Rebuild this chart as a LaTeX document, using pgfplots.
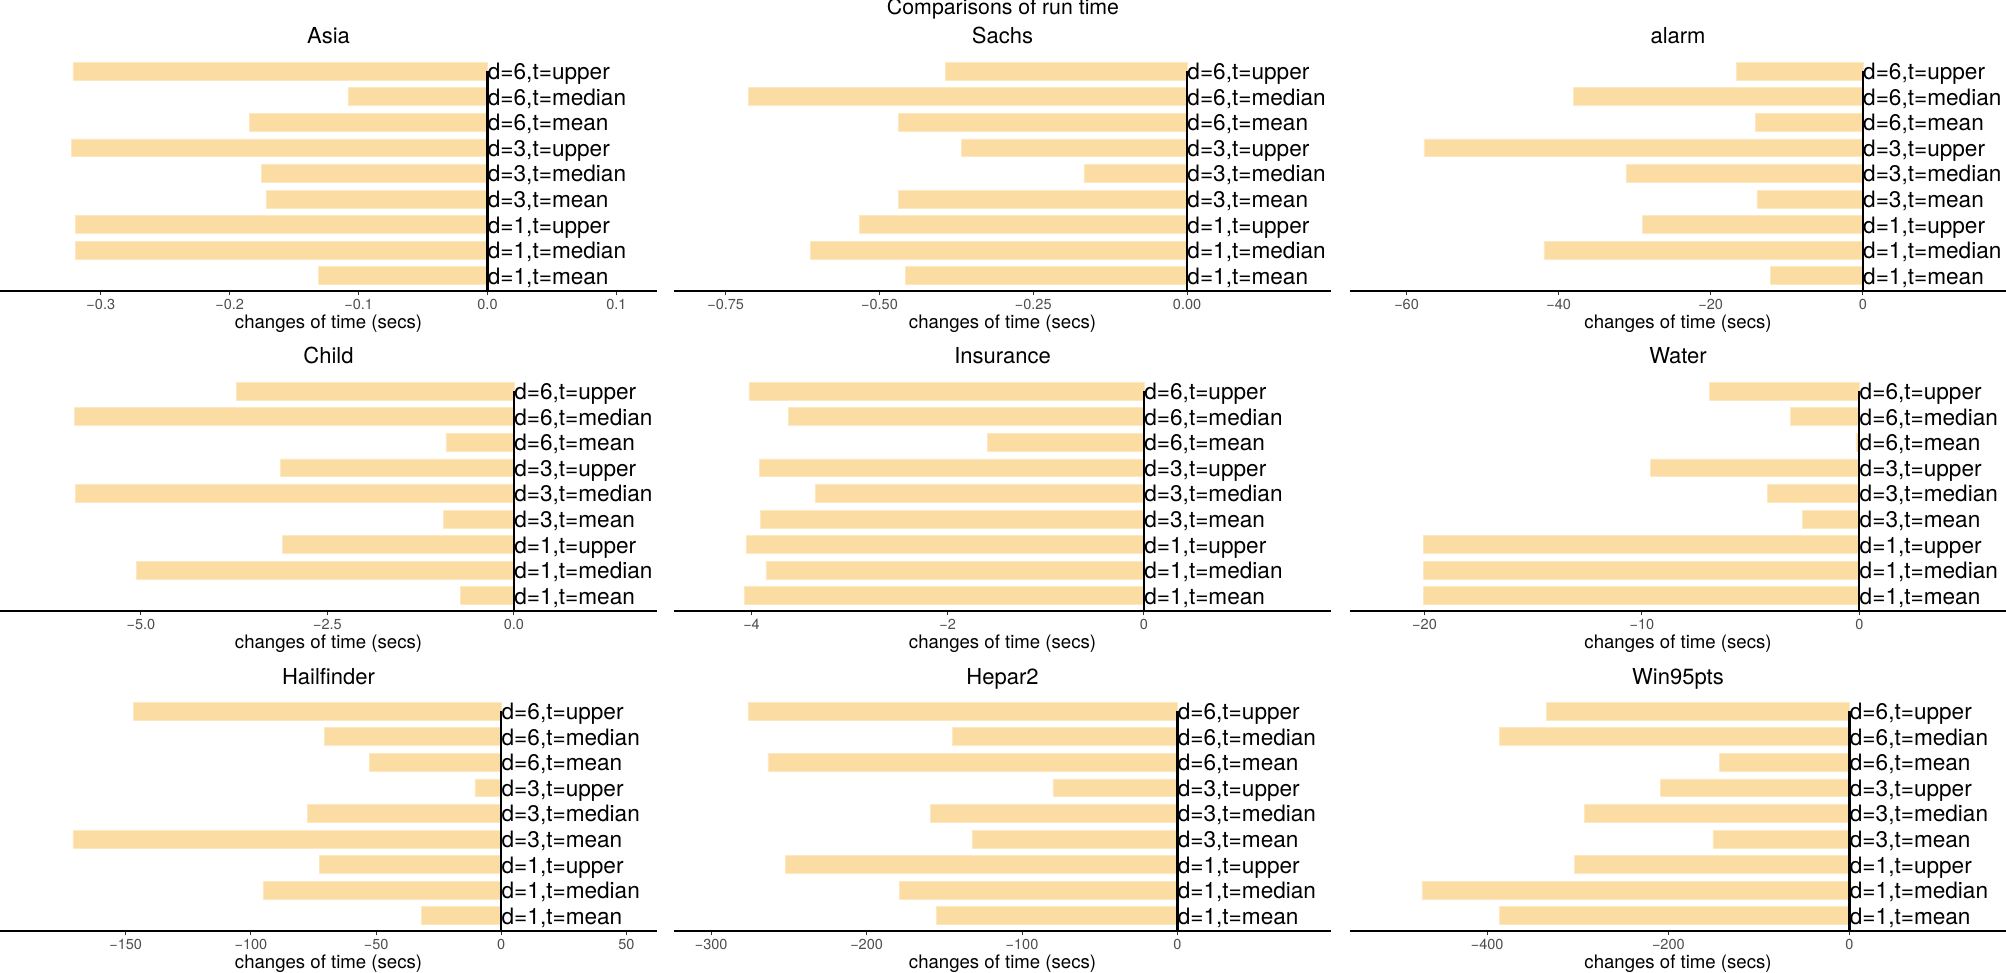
\documentclass[border=0pt]{standalone}
\usepackage{pgfplots}
\pgfplotsset{compat=1.18}
\usepackage{pgfplotstable}
\usepackage{fontspec}
\setmainfont{TeX Gyre Heros}

\definecolor{barfill}{HTML}{FBDDA4}
\definecolor{barline}{HTML}{FDE8C2}
\definecolor{tickgray}{HTML}{333333}
\definecolor{labgray}{HTML}{4D4D4D}

% categories, bottom to top
\pgfplotstableread{
x y label
0 1 d=1,t=mean
0 2 d=1,t=median
0 3 d=1,t=upper
0 4 d=3,t=mean
0 5 d=3,t=median
0 6 d=3,t=upper
0 7 d=6,t=mean
0 8 d=6,t=median
0 9 d=6,t=upper
}\labels

\pgfplotstableread{
val cat
-0.1312 1
-0.3199 2
-0.3199 3
-0.1719 4
-0.1756 5
-0.3226 6
-0.1847 7
-0.1083 8
-0.3216 9
}\asia
\pgfplotstableread{
val cat
-0.4575 1
-0.6125 2
-0.5329 3
-0.4694 4
-0.1678 5
-0.3672 6
-0.4694 7
-0.7126 8
-0.3926 9
}\sachs
\pgfplotstableread{
val cat
-12.15 1
-41.93 2
-28.98 3
-13.92 4
-31.15 5
-57.73 6
-14.15 7
-38.05 8
-16.60 9
}\alarm
\pgfplotstableread{
val cat
-0.715 1
-5.058 2
-3.105 3
-0.948 4
-5.878 5
-3.134 6
-0.913 7
-5.890 8
-3.721 9
}\child
\pgfplotstableread{
val cat
-4.071 1
-3.854 2
-4.057 3
-3.912 4
-3.355 5
-3.920 6
-1.600 7
-3.624 8
-4.027 9
}\insurance
\pgfplotstableread{
val cat
-20.06 1
-20.06 2
-20.06 3
-2.635 4
-4.232 5
-9.60 6
-0.16 7
-3.174 8
-6.906 9
}\water
\pgfplotstableread{
val cat
-31.86 1
-95.24 2
-72.73 3
-171.1 4
-77.58 5
-10.56 6
-52.81 7
-70.65 8
-147.0 9
}\hailfinder
\pgfplotstableread{
val cat
-154.9 1
-178.9 2
-252.0 3
-132.3 4
-159.1 5
-80.1 6
-263.5 7
-144.8 8
-276.3 9
}\hepar
\pgfplotstableread{
val cat
-386.1 1
-471.9 2
-303.7 3
-150.9 4
-292.2 5
-208.4 6
-143.7 7
-386.1 8
-334.4 9
}\winpts

\pgfplotsset{
  every axis title shift=0pt,
  panel/.style={
    scale only axis,
    width=328.5pt, height=117.6pt,
    anchor=south west,
    clip=false,
    ymin=0.4, ymax=9.6, ytick=\empty,
    axis x line*=bottom, axis y line=none,
    x axis line style={black, line width=0.6pt, -},
    xtick align=outside,
    major tick length=2.25pt,
    every tick/.style={tickgray, line width=0.5pt},
    xticklabel style={font=\fontsize{7.25}{8}\selectfont, text=labgray, anchor=base, yshift=-6.9pt, inner sep=0pt},
    xlabel={changes of time (secs)},
    xlabel style={font=\fontsize{9.3}{11}\selectfont, at={(axis description cs:0.5,0)}, anchor=base, yshift=-19pt, inner sep=0pt},
    title style={font=\fontsize{11}{13}\selectfont, at={(axis description cs:0.5,1)}, anchor=base, yshift=5.9pt, inner sep=0pt},
  },
}

% #1 x, #2 y, #3 title, #4 xmin, #5 xmax, #6 ticks, #7 tick labels, #8 data
\newcommand{\panel}[8]{%
  \begin{axis}[panel, at={(#1,#2)}, title={#3}, xmin=#4, xmax=#5, xtick={#6}, xticklabels={#7}]
    \addplot[xbar, bar width=0.7, fill=barfill, draw=barline, line width=0.3pt] table[x=val, y=cat] {#8};
    \addplot[black, line width=1.1pt] coordinates {(0,0.4) (0,9)};
    \addplot[draw=none, mark=none, nodes near coords, point meta=explicit symbolic,
      nodes near coords style={anchor=base west, inner sep=0pt, yshift=-4.3pt, text=black,
        font=\fontsize{11.3}{13}\selectfont}]
      table[x=x, y=y, meta=label] {\labels};
  \end{axis}}

\begin{document}
\begin{tikzpicture}
\useasboundingbox (0,0) rectangle (1003pt,486.5pt);
\node[anchor=base, inner sep=0pt, font=\fontsize{10.65}{12}\selectfont] at (501.5pt,479pt) {Comparisons of run time};

\panel{0pt}{341pt}{Asia}{-0.3782}{0.1315}{-0.3,-0.2,-0.1,0,0.1}{−0.3,−0.2,−0.1,0.0,0.1}{\asia}
\panel{337pt}{341pt}{Sachs}{-0.834}{0.234}{-0.75,-0.5,-0.25,0}{−0.75,−0.50,−0.25,0.00}{\sachs}
\panel{674.75pt}{341pt}{alarm}{-67.5}{18.9}{-60,-40,-20,0}{−60,−40,−20,0}{\alarm}

\panel{0pt}{181pt}{Child}{-6.889}{1.918}{-5,-2.5,0}{−5.0,−2.5,0.0}{\child}
\panel{337pt}{181pt}{Insurance}{-4.79}{1.906}{-4,-2,0}{−4,−2,0}{\insurance}
\panel{674.75pt}{181pt}{Water}{-23.45}{6.77}{-20,-10,0}{−20,−10,0}{\water}

\panel{0pt}{21pt}{Hailfinder}{-200.2}{62.2}{-150,-100,-50,0,50}{−150,−100,−50,0,50}{\hailfinder}
\panel{337pt}{21pt}{Hepar2}{-323.9}{98.8}{-300,-200,-100,0}{−300,−200,−100,0}{\hepar}
\panel{674.75pt}{21pt}{Win95pts}{-551.9}{173.3}{-400,-200,0}{−400,−200,0}{\winpts}
\end{tikzpicture}
\end{document}
